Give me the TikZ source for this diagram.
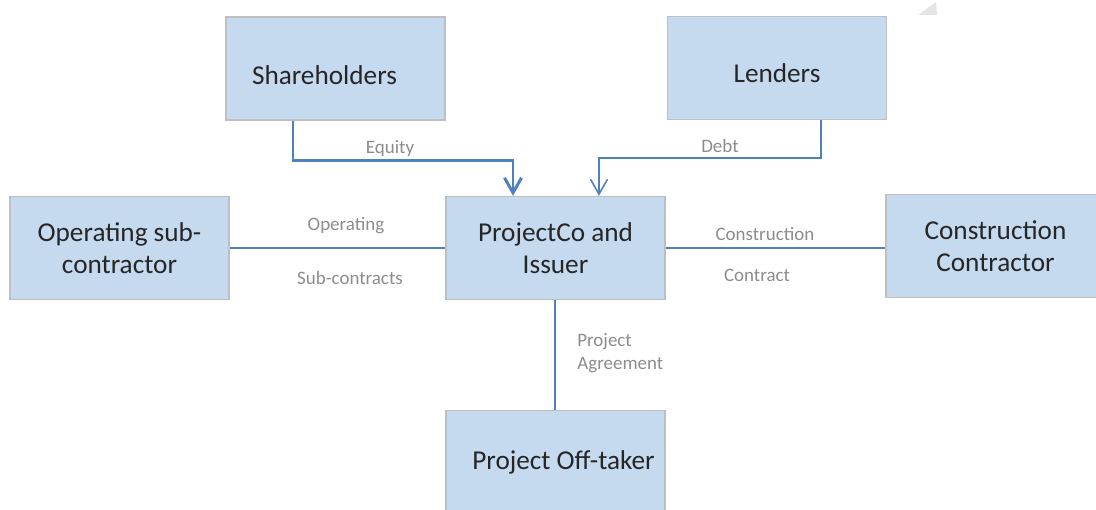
\documentclass[tikz,border=0pt]{standalone}
\usepackage{fontspec}
\setmainfont{Carlito}
\usepackage{tikz}
\usetikzlibrary{calc,arrows.meta}

\definecolor{boxfill}{HTML}{C5D9EF}
\definecolor{boxline}{HTML}{BFBFBF}
\definecolor{flowblue}{HTML}{4F81BD}
\definecolor{labelgray}{HTML}{8C8C8C}

\begin{document}
\begin{tikzpicture}[x=0.02cm,y=-0.02cm,
    party/.style={rectangle,draw=boxline,line width=0.8pt,fill=boxfill,
      minimum width=4.38cm,minimum height=2.06cm,align=center,
      text=black!85,font=\fontsize{15.5}{18.4}\selectfont},
    deal/.style={text=labelgray,font=\fontsize{10.8}{13}\selectfont,inner sep=0pt},
    link/.style={draw=flowblue,line width=1.3pt},
    money/.style={draw=flowblue,-{Straight Barb[length=3mm,width=3.4mm]}}]
  \useasboundingbox (0,0) rectangle (1096,510);

  % parties
  \node[party,text height=0.63cm,text depth=0pt] (share) at (335.5,68.5)
    {Shareholders\hspace*{0.44cm}};
  \node[party,text height=0.6cm,text depth=0pt] (lend) at (777,68) {Lenders};
  \node[party] (oper) at (119.5,248) {Operating sub-\\contractor};
  \node[party] (proj) at (555.5,248) {ProjectCo and\\Issuer};
  \node[party] (cons) at (995.5,246) {Construction\\Contractor};
  \node[party] (offt) at (555.5,462) {\hspace*{0.32cm}Project Off-taker};

  % funding
  \draw[money,line width=1.7pt] ($(share.south)+(-42.5,0)$) -- ++(0,40)
    -| ($(proj.north)+(-42.5,0)$);
  \draw[money,line width=0.9pt] ($(lend.south)+(44,0)$) -- ++(0,38)
    -| ($(proj.north)+(43.5,0)$);

  % contracts
  \draw[link] (oper.east |- proj.east) -- (proj.west);
  \draw[link] (proj.east) -- (proj.east -| cons.west);
  \draw[link] ($(proj.south)+(-0.5,0)$) -- ($(offt.north)+(-0.5,0)$);

  % labels
  \node[deal] (eqlab) at (390,149) {Equity};
  \node[deal] (dblab) at (720,146) {Debt};
  \node[deal] (oplab) at (346,226) {Operating};
  \node[deal] (sclab) at (350,278) {Sub-contracts};
  \node[deal] (cnlab) at (765,234) {Construction};
  \node[deal] (ctlab) at (757,275) {Contract};
  \node[deal,anchor=west,align=left] (palab) at (577,353) {Project\\Agreement};

  \fill[black!10] (918,15) -- (936,2) -- (937,15) -- cycle;
\end{tikzpicture}
\end{document}
